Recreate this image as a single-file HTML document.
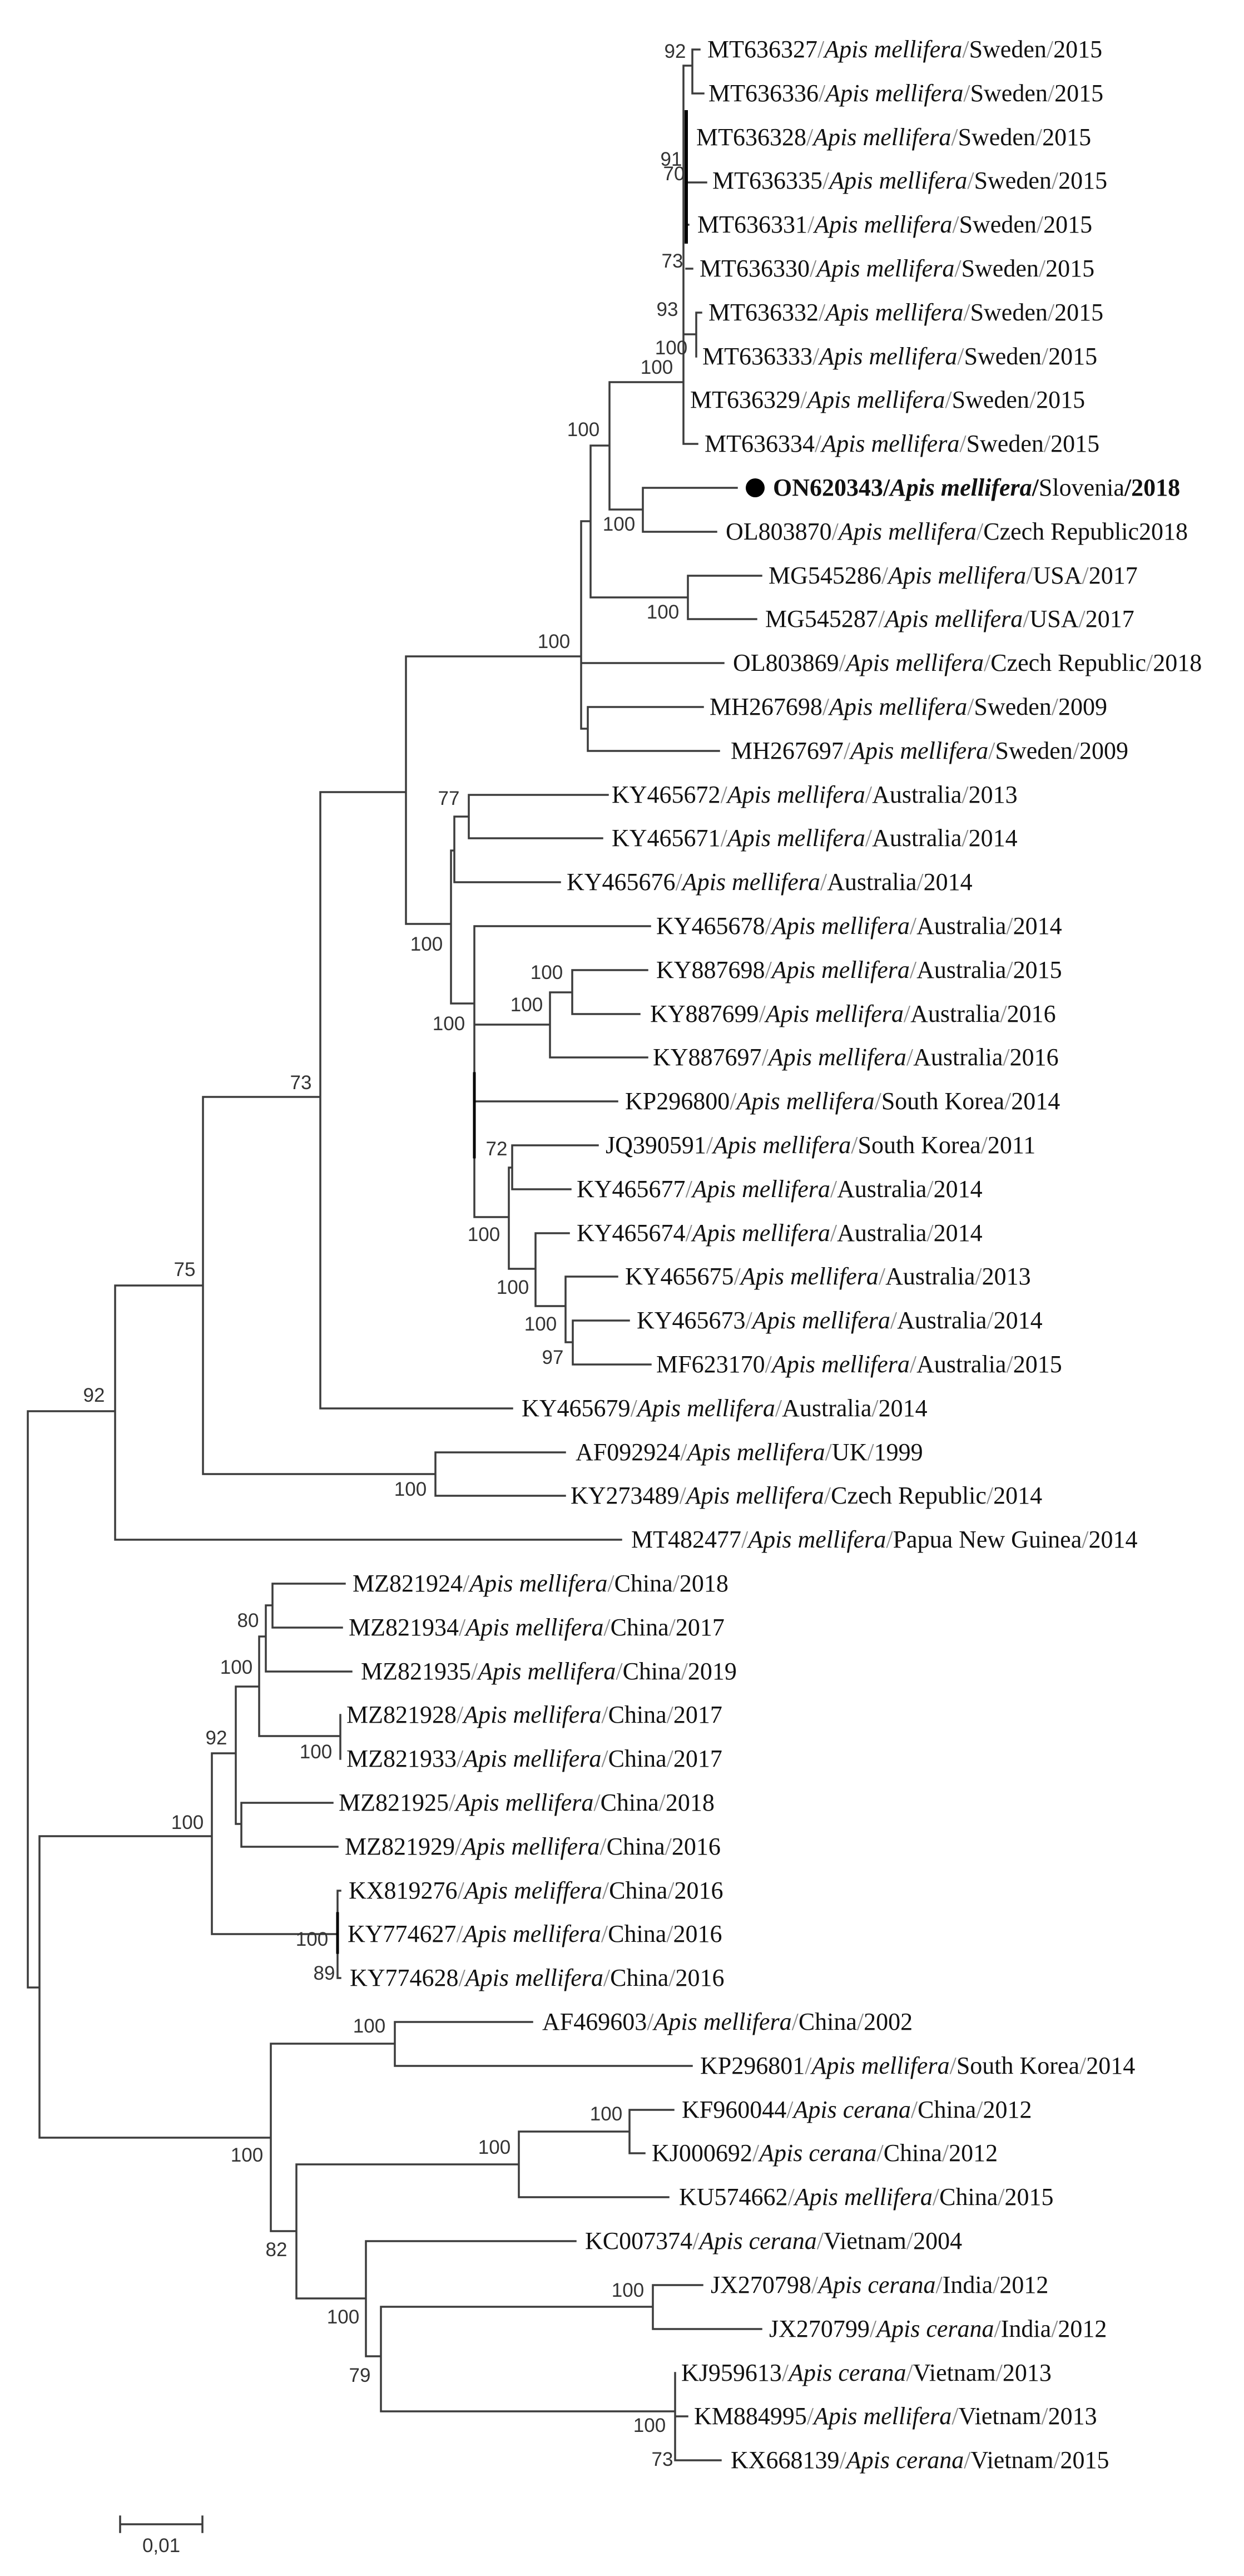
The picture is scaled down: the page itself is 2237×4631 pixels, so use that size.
<!DOCTYPE html>
<html><head><meta charset="utf-8"><style>
html,body{margin:0;padding:0;background:#fff;}
svg{display:block}
.t{font-family:"Liberation Serif",serif;font-size:44px;fill:#111}
.i{font-style:italic}
.s{fill:#888}
.b{font-family:"Liberation Sans",sans-serif;font-size:35px;fill:#333;text-anchor:middle}
path{fill:none;stroke:#3c3c3c;stroke-width:3.5;stroke-linecap:square}
</style></head><body>
<svg width="2237" height="4631" viewBox="0 0 2237 4631" xmlns="http://www.w3.org/2000/svg">
<path d="M1229 118 V798 M1229 118 H1245 M1245 89 V168 M1245 89 H1258 M1245 168 H1265
M1234 328 H1270 M1234 404 H1238 M1234 483 H1245
M1229 601 H1252 M1252 562 V641 M1252 562 H1261 M1229 798 H1254
M1096 687 H1229 M1096 687 V916
M1096 916 H1156 M1156 877 V956 M1156 877 H1325 M1156 956 H1288
M1062 801 H1096 M1062 801 V1074 M1062 1074 H1237 M1237 1035 V1113 M1237 1035 H1369 M1237 1113 H1360
M1045 937 H1062 M1045 937 V1310 M1045 1192 H1301 M1045 1310 H1057 M1057 1271 V1350 M1057 1271 H1264 M1057 1350 H1293
M730 1180 H1045 M730 1180 V1661 M576 1424 H730
M730 1661 H811 M811 1529 V1804 M811 1529 H817 M817 1468 V1586 M817 1468 H843 M843 1429 V1507 M843 1429 H1093 M843 1507 H1083 M817 1586 H1007
M811 1804 H853 M853 1665 V2188 M853 1665 H1169 M853 1842 H989 M989 1784 V1901 M989 1784 H1029 M1029 1744 V1823 M1029 1744 H1164 M1029 1823 H1150 M989 1901 H1164 M853 1980 H1110
M853 2188 H915 M915 2099 V2281 M915 2099 H921 M921 2059 V2138 M921 2059 H1075 M921 2138 H1026
M915 2281 H963 M963 2217 V2348 M963 2217 H1023 M963 2348 H1017 M1017 2295 V2413 M1017 2295 H1110 M1017 2413 H1030 M1030 2374 V2453 M1030 2374 H1131 M1030 2453 H1170
M576 1424 V2532 M576 2532 H921 M365 1972 H576
M365 1972 V2650 M365 2650 H783 M783 2611 V2689 M783 2611 H1016 M783 2689 H1016
M207 2311 H365 M207 2311 V2768 M207 2768 H1117 M50 2537 H207
M50 2537 V3573 M50 3573 H71 M71 3301 V3843
M71 3301 H381 M381 3152 V3477 M381 3152 H424 M424 3032 V3279 M424 3032 H466 M466 2942 V3121 M466 2942 H478 M478 2886 V3005 M478 2886 H490 M490 2847 V2926 M490 2847 H620 M490 2926 H615 M478 3005 H632 M466 3121 H612 M612 3083 V3162
M424 3279 H434 M434 3241 V3320 M434 3241 H598 M434 3320 H607 M381 3477 H607 M607 3399 V3556 M607 3399 H612 M607 3556 H612
M71 3843 H487 M487 3674 V4011 M487 3674 H710 M710 3635 V3714 M710 3635 H957 M710 3714 H1244
M487 4011 H533 M533 3891 V4132 M533 3891 H933 M933 3832 V3950 M933 3832 H1132 M1132 3793 V3871 M1132 3793 H1211 M1132 3871 H1159 M933 3950 H1202
M533 4132 H658 M658 4029 V4236 M658 4029 H1035 M658 4236 H685 M685 4147 V4335 M685 4147 H1174 M1174 4108 V4187 M1174 4108 H1263 M1174 4187 H1369 M685 4335 H1214 M1214 4266 V4423 M1214 4344 H1236 M1214 4423 H1296
M216 4538 H364 M216 4524 V4552 M364 4524 V4552"/>
<path d="M1234 201 V435" style="stroke:#000;stroke-width:6"/>
<path d="M853 1930 V2080" style="stroke:#000;stroke-width:5"/>
<path d="M607 3440 V3510" style="stroke:#000;stroke-width:5"/>
<circle cx="1358" cy="877" r="17" fill="#000"/>

<g class="t">
<text x="1272" y="103">MT636327<tspan class="s">/</tspan><tspan class="i">Apis mellifera</tspan><tspan class="s">/</tspan>Sweden<tspan class="s">/</tspan>2015</text>
<text x="1274" y="182">MT636336<tspan class="s">/</tspan><tspan class="i">Apis mellifera</tspan><tspan class="s">/</tspan>Sweden<tspan class="s">/</tspan>2015</text>
<text x="1252" y="261">MT636328<tspan class="s">/</tspan><tspan class="i">Apis mellifera</tspan><tspan class="s">/</tspan>Sweden<tspan class="s">/</tspan>2015</text>
<text x="1281" y="339">MT636335<tspan class="s">/</tspan><tspan class="i">Apis mellifera</tspan><tspan class="s">/</tspan>Sweden<tspan class="s">/</tspan>2015</text>
<text x="1254" y="418">MT636331<tspan class="s">/</tspan><tspan class="i">Apis mellifera</tspan><tspan class="s">/</tspan>Sweden<tspan class="s">/</tspan>2015</text>
<text x="1258" y="497">MT636330<tspan class="s">/</tspan><tspan class="i">Apis mellifera</tspan><tspan class="s">/</tspan>Sweden<tspan class="s">/</tspan>2015</text>
<text x="1274" y="576">MT636332<tspan class="s">/</tspan><tspan class="i">Apis mellifera</tspan><tspan class="s">/</tspan>Sweden<tspan class="s">/</tspan>2015</text>
<text x="1263" y="655">MT636333<tspan class="s">/</tspan><tspan class="i">Apis mellifera</tspan><tspan class="s">/</tspan>Sweden<tspan class="s">/</tspan>2015</text>
<text x="1241" y="733">MT636329<tspan class="s">/</tspan><tspan class="i">Apis mellifera</tspan><tspan class="s">/</tspan>Sweden<tspan class="s">/</tspan>2015</text>
<text x="1267" y="812">MT636334<tspan class="s">/</tspan><tspan class="i">Apis mellifera</tspan><tspan class="s">/</tspan>Sweden<tspan class="s">/</tspan>2015</text>
<text x="1390" y="891" font-weight="bold">ON620343/<tspan class="i">Apis mellifera</tspan>/<tspan font-weight="normal">Slovenia</tspan>/2018</text>
<text x="1305" y="970">OL803870<tspan class="s">/</tspan><tspan class="i">Apis mellifera</tspan><tspan class="s">/</tspan>Czech Republic2018</text>
<text x="1382" y="1049">MG545286<tspan class="s">/</tspan><tspan class="i">Apis mellifera</tspan><tspan class="s">/</tspan>USA<tspan class="s">/</tspan>2017</text>
<text x="1376" y="1127">MG545287<tspan class="s">/</tspan><tspan class="i">Apis mellifera</tspan><tspan class="s">/</tspan>USA<tspan class="s">/</tspan>2017</text>
<text x="1318" y="1206">OL803869<tspan class="s">/</tspan><tspan class="i">Apis mellifera</tspan><tspan class="s">/</tspan>Czech Republic<tspan class="s">/</tspan>2018</text>
<text x="1276" y="1285">MH267698<tspan class="s">/</tspan><tspan class="i">Apis mellifera</tspan><tspan class="s">/</tspan>Sweden<tspan class="s">/</tspan>2009</text>
<text x="1314" y="1364">MH267697<tspan class="s">/</tspan><tspan class="i">Apis mellifera</tspan><tspan class="s">/</tspan>Sweden<tspan class="s">/</tspan>2009</text>
<text x="1100" y="1443">KY465672<tspan class="s">/</tspan><tspan class="i">Apis mellifera</tspan><tspan class="s">/</tspan>Australia<tspan class="s">/</tspan>2013</text>
<text x="1100" y="1521">KY465671<tspan class="s">/</tspan><tspan class="i">Apis mellifera</tspan><tspan class="s">/</tspan>Australia<tspan class="s">/</tspan>2014</text>
<text x="1019" y="1600">KY465676<tspan class="s">/</tspan><tspan class="i">Apis mellifera</tspan><tspan class="s">/</tspan>Australia<tspan class="s">/</tspan>2014</text>
<text x="1180" y="1679">KY465678<tspan class="s">/</tspan><tspan class="i">Apis mellifera</tspan><tspan class="s">/</tspan>Australia<tspan class="s">/</tspan>2014</text>
<text x="1180" y="1758">KY887698<tspan class="s">/</tspan><tspan class="i">Apis mellifera</tspan><tspan class="s">/</tspan>Australia<tspan class="s">/</tspan>2015</text>
<text x="1169" y="1837">KY887699<tspan class="s">/</tspan><tspan class="i">Apis mellifera</tspan><tspan class="s">/</tspan>Australia<tspan class="s">/</tspan>2016</text>
<text x="1174" y="1915">KY887697<tspan class="s">/</tspan><tspan class="i">Apis mellifera</tspan><tspan class="s">/</tspan>Australia<tspan class="s">/</tspan>2016</text>
<text x="1124" y="1994">KP296800<tspan class="s">/</tspan><tspan class="i">Apis mellifera</tspan><tspan class="s">/</tspan>South Korea<tspan class="s">/</tspan>2014</text>
<text x="1089" y="2073">JQ390591<tspan class="s">/</tspan><tspan class="i">Apis mellifera</tspan><tspan class="s">/</tspan>South Korea<tspan class="s">/</tspan>2011</text>
<text x="1037" y="2152">KY465677<tspan class="s">/</tspan><tspan class="i">Apis mellifera</tspan><tspan class="s">/</tspan>Australia<tspan class="s">/</tspan>2014</text>
<text x="1037" y="2231">KY465674<tspan class="s">/</tspan><tspan class="i">Apis mellifera</tspan><tspan class="s">/</tspan>Australia<tspan class="s">/</tspan>2014</text>
<text x="1124" y="2309">KY465675<tspan class="s">/</tspan><tspan class="i">Apis mellifera</tspan><tspan class="s">/</tspan>Australia<tspan class="s">/</tspan>2013</text>
<text x="1145" y="2388">KY465673<tspan class="s">/</tspan><tspan class="i">Apis mellifera</tspan><tspan class="s">/</tspan>Australia<tspan class="s">/</tspan>2014</text>
<text x="1180" y="2467">MF623170<tspan class="s">/</tspan><tspan class="i">Apis mellifera</tspan><tspan class="s">/</tspan>Australia<tspan class="s">/</tspan>2015</text>
<text x="938" y="2546">KY465679<tspan class="s">/</tspan><tspan class="i">Apis mellifera</tspan><tspan class="s">/</tspan>Australia<tspan class="s">/</tspan>2014</text>
<text x="1035" y="2625">AF092924<tspan class="s">/</tspan><tspan class="i">Apis mellifera</tspan><tspan class="s">/</tspan>UK<tspan class="s">/</tspan>1999</text>
<text x="1026" y="2703">KY273489<tspan class="s">/</tspan><tspan class="i">Apis mellifera</tspan><tspan class="s">/</tspan>Czech Republic<tspan class="s">/</tspan>2014</text>
<text x="1135" y="2782">MT482477<tspan class="s">/</tspan><tspan class="i">Apis mellifera</tspan><tspan class="s">/</tspan>Papua New Guinea<tspan class="s">/</tspan>2014</text>
<text x="634" y="2861">MZ821924<tspan class="s">/</tspan><tspan class="i">Apis mellifera</tspan><tspan class="s">/</tspan>China<tspan class="s">/</tspan>2018</text>
<text x="627" y="2940">MZ821934<tspan class="s">/</tspan><tspan class="i">Apis mellifera</tspan><tspan class="s">/</tspan>China<tspan class="s">/</tspan>2017</text>
<text x="649" y="3019">MZ821935<tspan class="s">/</tspan><tspan class="i">Apis mellifera</tspan><tspan class="s">/</tspan>China<tspan class="s">/</tspan>2019</text>
<text x="623" y="3097">MZ821928<tspan class="s">/</tspan><tspan class="i">Apis mellifera</tspan><tspan class="s">/</tspan>China<tspan class="s">/</tspan>2017</text>
<text x="623" y="3176">MZ821933<tspan class="s">/</tspan><tspan class="i">Apis mellifera</tspan><tspan class="s">/</tspan>China<tspan class="s">/</tspan>2017</text>
<text x="609" y="3255">MZ821925<tspan class="s">/</tspan><tspan class="i">Apis mellifera</tspan><tspan class="s">/</tspan>China<tspan class="s">/</tspan>2018</text>
<text x="620" y="3334">MZ821929<tspan class="s">/</tspan><tspan class="i">Apis mellifera</tspan><tspan class="s">/</tspan>China<tspan class="s">/</tspan>2016</text>
<text x="627" y="3413">KX819276<tspan class="s">/</tspan><tspan class="i">Apis meliffera</tspan><tspan class="s">/</tspan>China<tspan class="s">/</tspan>2016</text>
<text x="625" y="3491">KY774627<tspan class="s">/</tspan><tspan class="i">Apis mellifera</tspan><tspan class="s">/</tspan>China<tspan class="s">/</tspan>2016</text>
<text x="629" y="3570">KY774628<tspan class="s">/</tspan><tspan class="i">Apis mellifera</tspan><tspan class="s">/</tspan>China<tspan class="s">/</tspan>2016</text>
<text x="975" y="3649">AF469603<tspan class="s">/</tspan><tspan class="i">Apis mellifera</tspan><tspan class="s">/</tspan>China<tspan class="s">/</tspan>2002</text>
<text x="1259" y="3728">KP296801<tspan class="s">/</tspan><tspan class="i">Apis mellifera</tspan><tspan class="s">/</tspan>South Korea<tspan class="s">/</tspan>2014</text>
<text x="1226" y="3807">KF960044<tspan class="s">/</tspan><tspan class="i">Apis cerana</tspan><tspan class="s">/</tspan>China<tspan class="s">/</tspan>2012</text>
<text x="1172" y="3885">KJ000692<tspan class="s">/</tspan><tspan class="i">Apis cerana</tspan><tspan class="s">/</tspan>China<tspan class="s">/</tspan>2012</text>
<text x="1221" y="3964">KU574662<tspan class="s">/</tspan><tspan class="i">Apis mellifera</tspan><tspan class="s">/</tspan>China<tspan class="s">/</tspan>2015</text>
<text x="1052" y="4043">KC007374<tspan class="s">/</tspan><tspan class="i">Apis cerana</tspan><tspan class="s">/</tspan>Vietnam<tspan class="s">/</tspan>2004</text>
<text x="1278" y="4122">JX270798<tspan class="s">/</tspan><tspan class="i">Apis cerana</tspan><tspan class="s">/</tspan>India<tspan class="s">/</tspan>2012</text>
<text x="1383" y="4201">JX270799<tspan class="s">/</tspan><tspan class="i">Apis cerana</tspan><tspan class="s">/</tspan>India<tspan class="s">/</tspan>2012</text>
<text x="1225" y="4280">KJ959613<tspan class="s">/</tspan><tspan class="i">Apis cerana</tspan><tspan class="s">/</tspan>Vietnam<tspan class="s">/</tspan>2013</text>
<text x="1248" y="4358">KM884995<tspan class="s">/</tspan><tspan class="i">Apis mellifera</tspan><tspan class="s">/</tspan>Vietnam<tspan class="s">/</tspan>2013</text>
<text x="1314" y="4437">KX668139<tspan class="s">/</tspan><tspan class="i">Apis cerana</tspan><tspan class="s">/</tspan>Vietnam<tspan class="s">/</tspan>2015</text>
</g>

<g class="b">
<text x="1214" y="104">92</text>
<text x="1207" y="298">91</text>
<text x="1212" y="324">70</text>
<text x="1209" y="481">73</text>
<text x="1200" y="568">93</text>
<text x="1207" y="637">100</text>
<text x="1181" y="672">100</text>
<text x="1049" y="784">100</text>
<text x="1113" y="954">100</text>
<text x="1192" y="1112">100</text>
<text x="996" y="1165">100</text>
<text x="807" y="1447">77</text>
<text x="767" y="1709">100</text>
<text x="983" y="1760">100</text>
<text x="947" y="1818">100</text>
<text x="807" y="1852">100</text>
<text x="541" y="1958">73</text>
<text x="893" y="2077">72</text>
<text x="870" y="2231">100</text>
<text x="922" y="2326">100</text>
<text x="972" y="2392">100</text>
<text x="994" y="2452">97</text>
<text x="332" y="2294">75</text>
<text x="169" y="2520">92</text>
<text x="738" y="2689">100</text>
<text x="446" y="2925">80</text>
<text x="425" y="3009">100</text>
<text x="389" y="3136">92</text>
<text x="568" y="3161">100</text>
<text x="337" y="3288">100</text>
<text x="561" y="3498">100</text>
<text x="583" y="3559">89</text>
<text x="664" y="3654">100</text>
<text x="1090" y="3812">100</text>
<text x="889" y="3872">100</text>
<text x="444" y="3886">100</text>
<text x="497" y="4056">82</text>
<text x="1129" y="4129">100</text>
<text x="617" y="4177">100</text>
<text x="647" y="4282">79</text>
<text x="1168" y="4372">100</text>
<text x="1191" y="4433">73</text>
<text x="290" y="4588">0,01</text>
</g>
</svg>
</body></html>
